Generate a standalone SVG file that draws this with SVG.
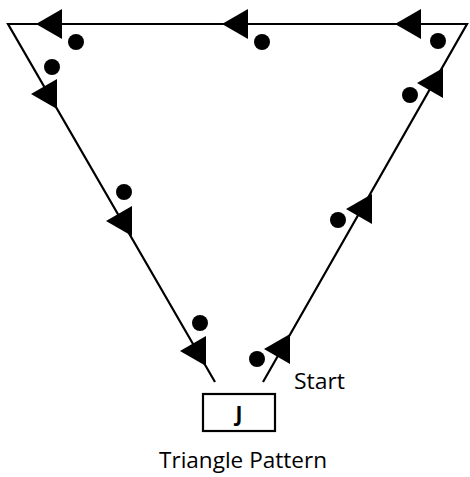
<svg xmlns="http://www.w3.org/2000/svg" width="470" height="477" viewBox="0 0 470 477">
  <style>
    .edge { stroke: #000; stroke-width: 2.2; fill: none; }
    .head { fill: #000; }
    .dot { fill: #000; }
    .lbl { font-family: "Open Sans", "Liberation Sans", sans-serif; font-size: 21px; fill: #000; }
    .box { fill: #fff; stroke: #000; stroke-width: 2.2; }
  </style>
  <defs>
    <polygon id="ah" points="0,-15 0,15 -26,0"/>
  </defs>
  <rect width="470" height="477" fill="#fff"/>
  <g id="connectors">
    <polyline class="edge" points="263,382 467,24 8,24 215,382"/>
    <g class="head">
      <use href="#ah" x="421" y="24"/>
      <use href="#ah" x="248" y="24"/>
      <use href="#ah" x="62" y="24"/>
      <use href="#ah" x="57" y="94"/>
      <use href="#ah" x="132" y="221"/>
      <use href="#ah" x="206" y="351"/>
      <use href="#ah" x="290" y="349"/>
      <use href="#ah" x="372" y="209"/>
      <use href="#ah" x="443" y="83"/>
    </g>
    <g class="dot">
      <circle cx="76" cy="42" r="8"/>
      <circle cx="262" cy="42" r="8"/>
      <circle cx="438" cy="41" r="8"/>
      <circle cx="52" cy="67" r="8"/>
      <circle cx="410" cy="95" r="8"/>
      <circle cx="124" cy="192" r="8"/>
      <circle cx="338" cy="220" r="8"/>
      <circle cx="200" cy="323" r="8"/>
      <circle cx="257" cy="359" r="8"/>
    </g>
  </g>
  <g id="node-j">
    <rect class="box" x="203" y="394" width="72" height="37"/>
    <text class="lbl" x="239" y="421" text-anchor="middle" font-weight="bold" font-size="21">J</text>
  </g>
  <g id="label-start">
    <text class="lbl" x="294" y="389" textLength="51" lengthAdjust="spacingAndGlyphs">Start</text>
  </g>
  <g id="title">
    <text class="lbl" x="159" y="468" textLength="168" lengthAdjust="spacingAndGlyphs">Triangle Pattern</text>
  </g>
</svg>
